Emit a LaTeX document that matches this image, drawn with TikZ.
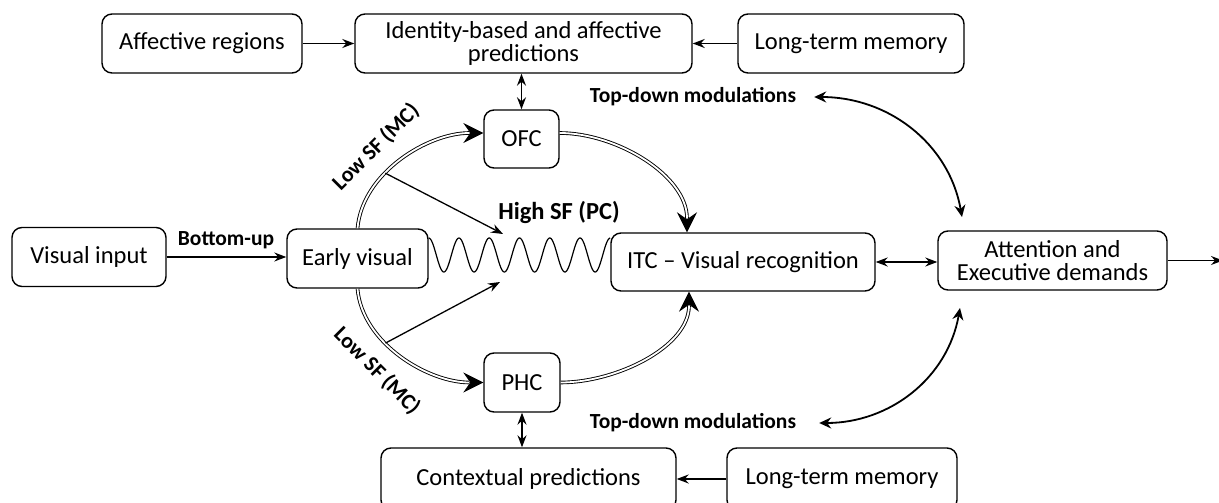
\documentclass[tikz,border=0pt]{standalone}
\usepackage{fontspec}
\setmainfont{Carlito}
\usetikzlibrary{arrows.meta,calc}

\tikzset{
  box/.style={draw, line width=1.4pt, rounded corners=10pt, inner sep=0pt, align=center,
    font=\fontsize{24.5}{23}\selectfont},
  lbl/.style={inner sep=0pt, font=\bfseries\fontsize{21.5}{24}\selectfont},
  arr/.style={line width=1.3pt, -{Stealth[length=12pt,width=9pt,inset=4pt]}},
  darr/.style={line width=1.3pt, {Stealth[length=12pt,width=9pt,inset=4pt]}-{Stealth[length=12pt,width=9pt,inset=4pt]}},
  sfpath/.style={line width=0.9pt, -{Stealth[length=20pt,width=20pt,inset=7pt]},
    postaction={draw, -, double, line width=0.9pt, double distance=1.8pt, shorten >=14pt}},
  tdarr/.style={line width=1.8pt, {Stealth[length=12pt,width=11pt,inset=4pt]}-{Stealth[length=12pt,width=11pt,inset=4pt]}},
}

\begin{document}
\begin{tikzpicture}[x=1pt,y=1pt]
\useasboundingbox (0,0) rectangle (1219,503);
% boxes
\node[box, minimum width=154pt, minimum height=59pt] (vis) at (89,246) {Visual input};
\node[box, minimum width=141pt, minimum height=59pt] (early) at (357.5,244.5) {Early visual};
\node[box, minimum width=264pt, minimum height=58pt] (itc) at (743,241) {ITC -- Visual recognition};
\node[box, minimum width=229pt, minimum height=59pt] (att) at (1052.5,242.5) {Attention and\\Executive demands};
\node[box, minimum width=75pt, minimum height=58pt] (ofc) at (521.5,364) {OFC};
\node[box, minimum width=76pt, minimum height=59pt] (phc) at (522,120.5) {PHC};
\node[box, minimum width=200pt, minimum height=59pt] (aff) at (202,459.5) {Affective regions};
\node[box, minimum width=337pt, minimum height=59pt] (idp) at (523.5,459.5) {Identity-based and affective\\predictions};
\node[box, minimum width=226pt, minimum height=59pt] (ltmtop) at (851,459.5) {Long-term memory};
\node[box, minimum width=295pt, minimum height=62pt] (ctx) at (528.5,24) {Contextual predictions};
\node[box, minimum width=230pt, minimum height=62pt] (ltmbot) at (842,24) {Long-term memory};

% labels
\node[lbl] (bu) at (226,263) {Bottom-up};
\node[lbl, font=\bfseries\fontsize{24.5}{26}\selectfont] (hsf) at (559,291) {High SF (PC)};
\node[lbl, font=\bfseries\fontsize{22}{24}\selectfont, rotate=45] (lsftop) at (376,356) {Low SF (MC)};
\node[lbl, font=\bfseries\fontsize{22}{24}\selectfont, rotate=-45] (lsfbot) at (377,132) {Low SF (MC)};
\node[lbl] (tdtop) at (693,406) {Top-down modulations};
\node[lbl] (tdbot) at (693,80) {Top-down modulations};

\coordinate (hsfa) at (503,269);
\coordinate (hsfb) at (500,221);
\coordinate (tdta) at (962,286);
\coordinate (tdba) at (960,195);
\coordinate (out) at (1223,242.5);

% straight connectors
\draw[arr] (vis.east) -- (vis.east -| early.west);
\draw[arr] (aff.east) -- (aff.east -| idp.west);
\draw[arr] (ltmtop.west) -- (ltmtop.west -| idp.east);
\draw[arr] (ltmbot.west) -- (ltmbot.west -| ctx.east);
\draw[darr] (idp.south -| ofc.north) -- (ofc.north);
\draw[darr] (phc.south) -- (phc.south |- ctx.north);
\draw[darr] (itc.east) -- (itc.east -| att.west);
\draw[arr] (att.east) -- (out);

% low SF paths
\draw[sfpath] (early.north) to[out=85,in=180,looseness=0.9] coordinate[pos=0.38] (lsfa) ([yshift=6pt]ofc.west);
\draw[sfpath] ([yshift=6pt]ofc.east) to[out=0,in=90,looseness=0.9] ([xshift=-56pt]itc.north);
\draw[sfpath] (early.south) to[out=-85,in=180,looseness=0.9] coordinate[pos=0.38] (lsfb) (phc.west);
\draw[sfpath] (phc.east) to[out=0,in=-90,looseness=0.9] ([xshift=-54pt]itc.south);
\draw[arr] (lsfa) -- (hsfa);
\draw[arr] (lsfb) -- (hsfb);

% high SF wave
\draw[line width=1.2pt] let \p1=(early.east), \p2=(itc.west) in
  plot[domain=0:1, samples=240, variable=\t] ({\x1+(\x2-\x1)*\t}, {\y1+3.5+17*cos(6*360*\t)});

% top-down modulations
\draw[tdarr] (tdtop.east) ++(18,0) to[out=0,in=100] (tdta);
\draw[tdarr] (tdbot.east) ++(23,0) to[out=0,in=-100] (tdba);
\end{tikzpicture}
\end{document}
